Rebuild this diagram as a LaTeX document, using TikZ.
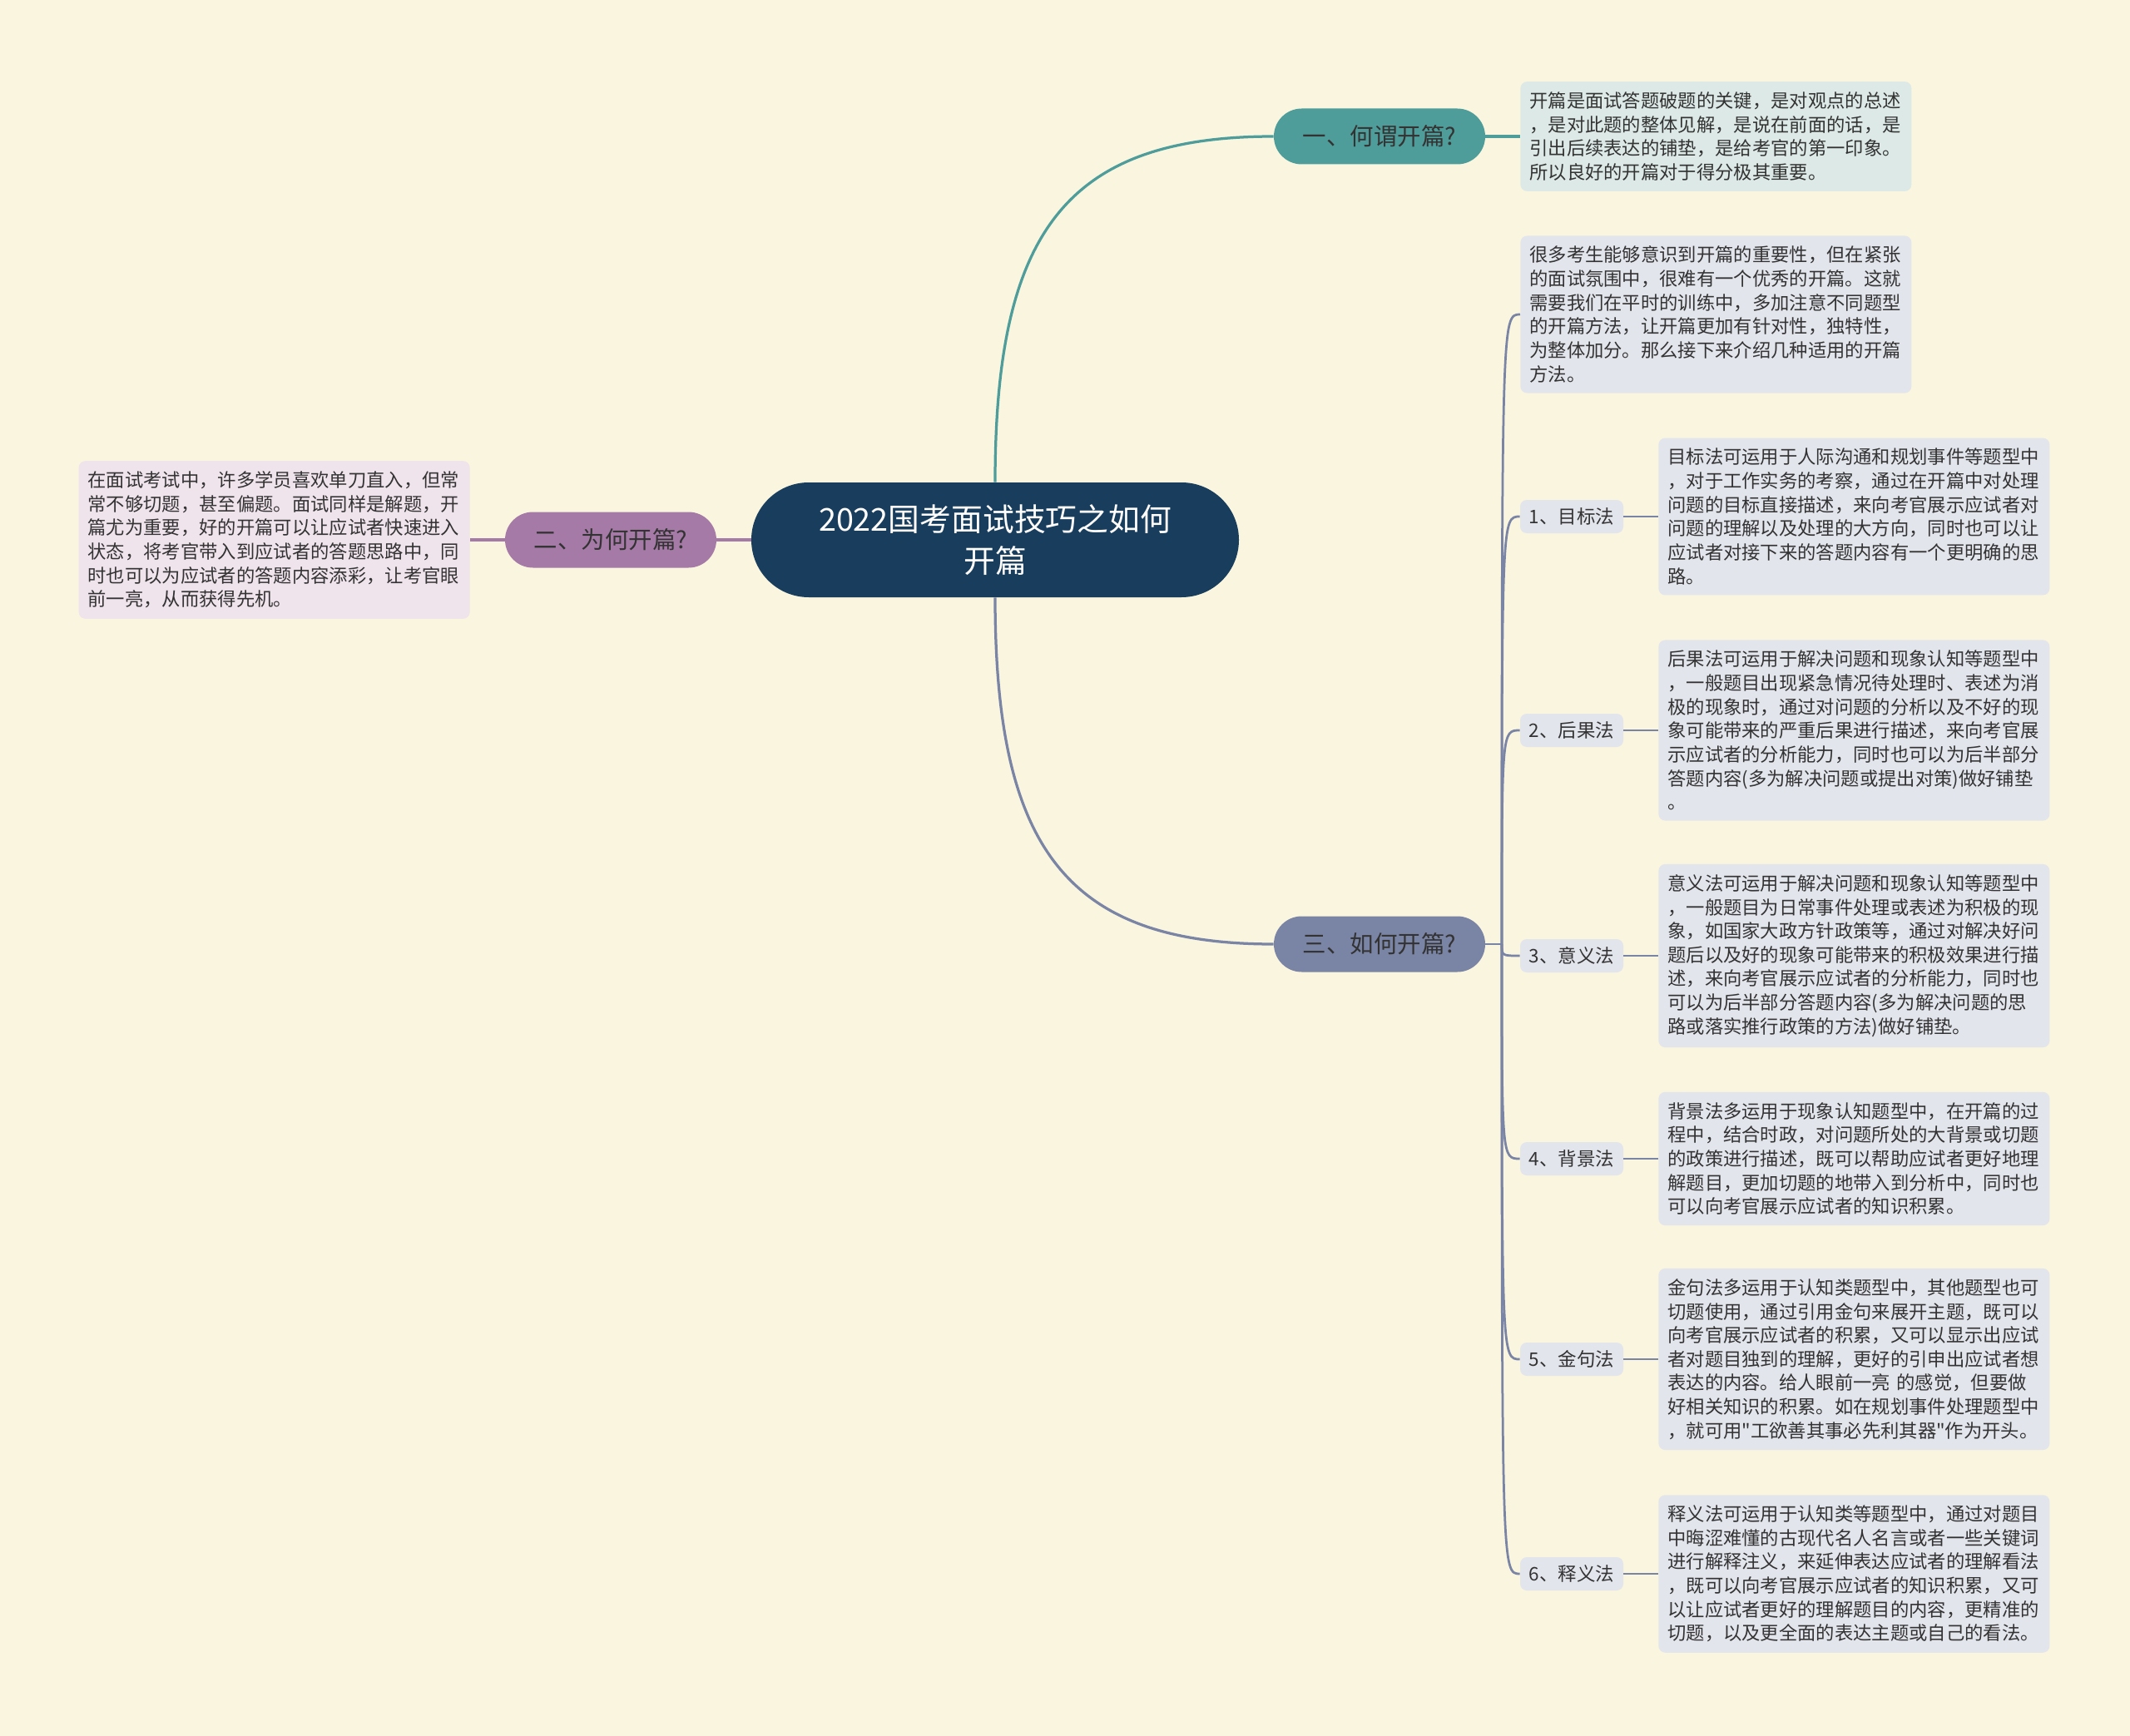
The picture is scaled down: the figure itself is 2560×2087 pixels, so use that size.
\documentclass[tikz,border=0pt]{standalone}
\usepackage{fontspec}
\setmainfont{Noto Sans CJK SC}[Ligatures=TeXOff]
\usepackage{tikz}

\definecolor{bgcream}{HTML}{FAF5DF}
\definecolor{rootblue}{HTML}{183D5D}
\definecolor{tealmain}{HTML}{4F9D9A}
\definecolor{tealsoft}{HTML}{DCE9E6}
\definecolor{plummain}{HTML}{A67AA7}
\definecolor{plumsoft}{HTML}{EFE3EC}
\definecolor{slatemain}{HTML}{7A84A4}
\definecolor{slatesoft}{HTML}{E3E5EC}
\definecolor{inkgray}{HTML}{333333}

\begin{document}
\begin{tikzpicture}[
    x=0.2mm, y=-0.2mm,
    rootnode/.style={
        rectangle,
        fill=rootblue,
        minimum width=117.2mm,
        minimum height=27.6mm,
        rounded corners=13.8mm,
        text=white,
        align=center,
        font={\fontsize{21.5}{28.5}\selectfont}
    },
    branchnode/.style={
        rectangle,
        minimum width=50.8mm,
        minimum height=13.4mm,
        rounded corners=6.7mm,
        text=inkgray,
        font={\fontsize{16.2}{20}\selectfont}
    },
    descbox/.style={
        rectangle,
        text width=89.6mm,
        align=left,
        inner xsep=2.2mm,
        inner ysep=2.5mm,
        rounded corners=1.6mm,
        text=inkgray,
        font={\fontsize{12.7}{16.3}\selectfont}
    },
    sublabel/.style={
        rectangle,
        fill=slatesoft,
        minimum width=24.8mm,
        minimum height=8mm,
        rounded corners=1.6mm,
        text=inkgray,
        font={\fontsize{12.8}{15}\selectfont}
    },
    link/.style={
        line width=0.65mm
    },
    sublink/.style={
        line width=0.55mm,
        color=slatemain
    }
]

% Background
\fill[bgcream] (0,0) rectangle (2560,2087);
\useasboundingbox (0,0) rectangle (2560,2087);

% Root
\node[rootnode] (root) at (1196,649) {2022国考面试技巧之如何\\开篇};

% Branch 1
\node[branchnode, fill=tealmain] (b1) at (1658,164) {一、何谓开篇?};
\node[descbox, fill=tealsoft, anchor=west] (d1) at (1827,164) {
开篇是面试答题破题的关键，是对观点的总述\\
，是对此题的整体见解，是说在前面的话，是\\
引出后续表达的铺垫，是给考官的第一印象。\\
所以良好的开篇对于得分极其重要。};

% Branch 2
\node[branchnode, fill=plummain] (b2) at (734,649) {二、为何开篇?};
\node[descbox, fill=plumsoft, anchor=east] (d2) at (565,649) {
在面试考试中，许多学员喜欢单刀直入，但常\\
常不够切题，甚至偏题。面试同样是解题，开\\
篇尤为重要，好的开篇可以让应试者快速进入\\
状态，将考官带入到应试者的答题思路中，同\\
时也可以为应试者的答题内容添彩，让考官眼\\
前一亮，从而获得先机。};

% Branch 3
\node[branchnode, fill=slatemain] (b3) at (1658,1135) {三、如何开篇?};
\coordinate (hub) at (1805,1135);

\node[descbox, fill=slatesoft, anchor=west] (intro) at (1827,378) {
很多考生能够意识到开篇的重要性，但在紧张\\
的面试氛围中，很难有一个优秀的开篇。这就\\
需要我们在平时的训练中，多加注意不同题型\\
的开篇方法，让开篇更加有针对性，独特性，\\
为整体加分。那么接下来介绍几种适用的开篇\\
方法。};

% Methods
\node[sublabel] (s1) at (1889,621) {1、目标法};
\node[descbox, fill=slatesoft, anchor=west] (m1) at (1993,621) {
目标法可运用于人际沟通和规划事件等题型中\\
，对于工作实务的考察，通过在开篇中对处理\\
问题的目标直接描述，来向考官展示应试者对\\
问题的理解以及处理的大方向，同时也可以让\\
应试者对接下来的答题内容有一个更明确的思\\
路。};

\node[sublabel] (s2) at (1889,878) {2、后果法};
\node[descbox, fill=slatesoft, anchor=west] (m2) at (1993,878) {
后果法可运用于解决问题和现象认知等题型中\\
，一般题目出现紧急情况待处理时、表述为消\\
极的现象时，通过对问题的分析以及不好的现\\
象可能带来的严重后果进行描述，来向考官展\\
示应试者的分析能力，同时也可以为后半部分\\
答题内容(多为解决问题或提出对策)做好铺垫\\
。};

\node[sublabel] (s3) at (1889,1149) {3、意义法};
\node[descbox, fill=slatesoft, anchor=west] (m3) at (1993,1149) {
意义法可运用于解决问题和现象认知等题型中\\
，一般题目为日常事件处理或表述为积极的现\\
象，如国家大政方针政策等，通过对解决好问\\
题后以及好的现象可能带来的积极效果进行描\\
述，来向考官展示应试者的分析能力，同时也\\
可以为后半部分答题内容(多为解决问题的思\\
路或落实推行政策的方法)做好铺垫。};

\node[sublabel] (s4) at (1889,1393) {4、背景法};
\node[descbox, fill=slatesoft, anchor=west] (m4) at (1993,1393) {
背景法多运用于现象认知题型中，在开篇的过\\
程中，结合时政，对问题所处的大背景或切题\\
的政策进行描述，既可以帮助应试者更好地理\\
解题目，更加切题的地带入到分析中，同时也\\
可以向考官展示应试者的知识积累。};

\node[sublabel] (s5) at (1889,1634) {5、金句法};
\node[descbox, fill=slatesoft, anchor=west] (m5) at (1993,1634) {
金句法多运用于认知类题型中，其他题型也可\\
切题使用，通过引用金句来展开主题，既可以\\
向考官展示应试者的积累，又可以显示出应试\\
者对题目独到的理解，更好的引申出应试者想\\
表达的内容。给人眼前一亮 的感觉，但要做\\
好相关知识的积累。如在规划事件处理题型中\\
，就可用"工欲善其事必先利其器"作为开头。};

\node[sublabel] (s6) at (1889,1892) {6、释义法};
\node[descbox, fill=slatesoft, anchor=west] (m6) at (1993,1892) {
释义法可运用于认知类等题型中，通过对题目\\
中晦涩难懂的古现代名人名言或者一些关键词\\
进行解释注义，来延伸表达应试者的理解看法\\
，既可以向考官展示应试者的知识积累，又可\\
以让应试者更好的理解题目的内容，更精准的\\
切题，以及更全面的表达主题或自己的看法。};

% Connectors
\draw[link, color=tealmain] (root.north) .. controls +(0,-300) and +(-250,0) .. (b1.west);
\draw[link, color=tealmain] (b1.east) -- (d1.west);
\draw[link, color=plummain] (root.west) -- (b2.east);
\draw[link, color=plummain] (b2.west) -- (d2.east);
\draw[link, color=slatemain] (root.south) .. controls +(0,300) and +(-250,0) .. (b3.west);
\draw[sublink] (b3.east) -- (hub);

\draw[sublink] (hub) .. controls (hub |- intro.west) and (hub |- intro.west) .. (intro.west);
\draw[sublink] (hub) .. controls (hub |- s1.west) and (hub |- s1.west) .. (s1.west);
\draw[sublink] (hub) .. controls (hub |- s2.west) and (hub |- s2.west) .. (s2.west);
\draw[sublink] (hub) .. controls (hub |- s3.west) and (hub |- s3.west) .. (s3.west);
\draw[sublink] (hub) .. controls (hub |- s4.west) and (hub |- s4.west) .. (s4.west);
\draw[sublink] (hub) .. controls (hub |- s5.west) and (hub |- s5.west) .. (s5.west);
\draw[sublink] (hub) .. controls (hub |- s6.west) and (hub |- s6.west) .. (s6.west);

\draw[sublink] (s1.east) -- (m1.west);
\draw[sublink] (s2.east) -- (m2.west);
\draw[sublink] (s3.east) -- (m3.west);
\draw[sublink] (s4.east) -- (m4.west);
\draw[sublink] (s5.east) -- (m5.west);
\draw[sublink] (s6.east) -- (m6.west);

\end{tikzpicture}
\end{document}
